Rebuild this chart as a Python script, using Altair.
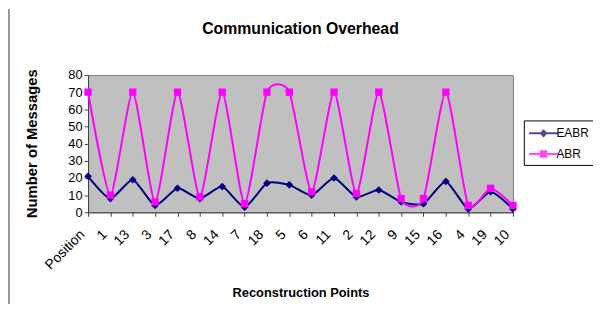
import altair as alt
import pandas as pd

categories = ["Position", "1", "13", "3", "17", "8", "14", "7", "18", "5",
              "6", "11", "2", "12", "9", "15", "16", "4", "19", "10"]
eabr = [21, 8, 19, 4, 14, 8, 15, 3, 17, 16, 10, 20, 9, 13, 6, 5, 18, 2, 12, 2]
abr = [70, 10, 70, 6, 70, 9, 70, 5, 70, 70, 12, 70, 11, 70, 8, 8, 70, 4, 14, 4]
series = ["EABR", "ABR"]
colors = ["#000080", "#FF00FF"]

rows = []
for i, c in enumerate(categories):
    rows.append({"point": c, "series": "EABR", "value": eabr[i], "idx": i})
for i, c in enumerate(categories):
    rows.append({"point": c, "series": "ABR", "value": abr[i], "idx": i})
df = pd.DataFrame(rows)

FONT = "Liberation Sans"

x_enc = alt.X("point:N", sort=categories,
              scale=alt.Scale(type="point", padding=0),
              axis=alt.Axis(title="Reconstruction Points", labelAngle=-45,
                            labelAlign="right", labelBaseline="middle",
                            labelPadding=16, labelOffset=-6, tickSize=4,
                            labelFontSize=14,
                            titleX=215, titleY=81, titleBaseline="middle",
                            titleFontSize=13))
y_enc = alt.Y("value:Q", scale=alt.Scale(domain=[0, 80], nice=False),
              axis=alt.Axis(title="Number of Messages", values=list(range(0, 81, 10)),
                            tickSize=4, grid=False, titleX=-57, titleY=69,
                            titleAngle=-90, titleAlign="center",
                            titleBaseline="middle", titleFontSize=15))

color_scale = alt.Scale(domain=series, range=colors)
# legend glyphs: a short bar (the line) with the series marker on it
legend_paths = ["M-1.1,-0.15H3.1V0.15H-1.1ZM1,-0.6L1.6,0L1,0.6L0.4,0Z",
                "M-1.1,-0.15H3.1V0.15H-1.1ZM0.45,-0.55H1.55V0.55H0.45Z"]
leg = alt.Legend(title=None, orient="none", legendX=441, legendY=46,
                 strokeColor="#000000", fillColor="#ffffff", padding=5,
                 symbolSize=196, labelOffset=12, labelFontSize=12, labelFont=FONT,
                 labelColor="#000000", rowPadding=7)


def series_layer(name, color, shape, size):
    base = alt.Chart(df).transform_filter(alt.datum.series == name)
    ln = base.mark_line(interpolate="cardinal", tension=0.4, strokeWidth=2,
                        color=color).encode(x=x_enc, y=y_enc)
    pt = base.mark_point(filled=True, shape=shape, size=size, opacity=1,
                         color=color).encode(x=x_enc, y=y_enc)
    return ln + pt


legend_layer = alt.Chart(df).transform_filter("datum.idx < 0").mark_point(
    filled=True, size=196).encode(
    x=x_enc, y=y_enc,
    color=alt.Color("series:N", scale=color_scale, legend=leg),
    shape=alt.Shape("series:N",
                    scale=alt.Scale(domain=series, range=legend_paths),
                    legend=leg),
)

frame = alt.Chart(df).mark_rule(color="#999999", strokeWidth=1).encode(
    x=alt.value(-80), y=alt.value(-66), y2=alt.value(231))

chart = alt.layer(
    frame,
    series_layer("EABR", colors[0], "diamond", 60),
    series_layer("ABR", colors[1], "square", 55),
    legend_layer,
).properties(
    width=430, height=139,
    title=alt.TitleParams("Communication Overhead", fontSize=16, font=FONT,
                          fontWeight="bold", anchor="middle", offset=0, dy=41,
                          baseline="alphabetic", color="#000000"),
    autosize=alt.AutoSizeParams(type="none"),
    padding={"left": 81, "top": 66, "right": 81, "bottom": 92},
).configure_view(
    fill="#C0C0C0", stroke="#808080", strokeWidth=1
).configure_axis(
    labelFont=FONT, titleFont=FONT, labelFontSize=13, labelColor="#000000",
    titleColor="#000000", titleFontWeight="bold", domainColor="#404040",
    tickColor="#404040"
)

chart.save("out.html", embed_options={"renderer": "svg", "actions": False})
